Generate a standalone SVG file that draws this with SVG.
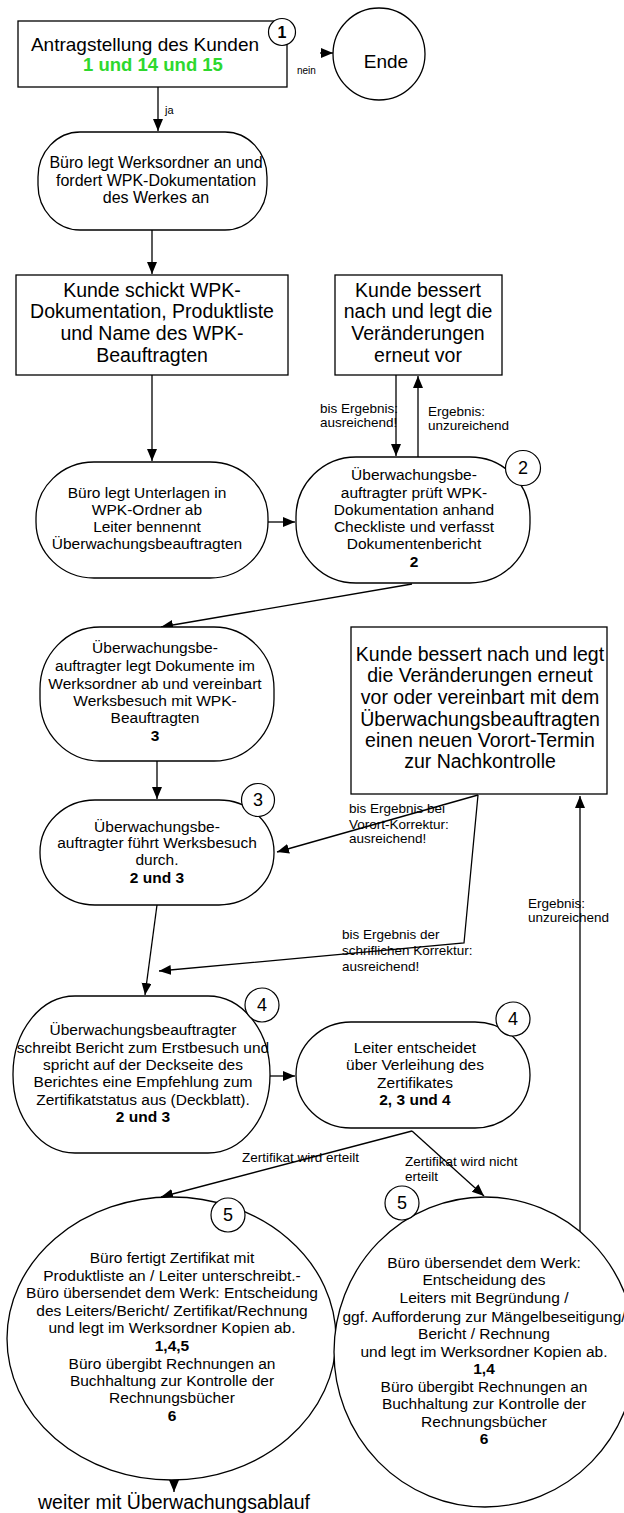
<svg xmlns="http://www.w3.org/2000/svg" width="624" height="1513" viewBox="0 0 624 1513">
<defs>
<style>
text{font-family:"Liberation Sans",Arial,sans-serif;fill:#000}
.shape{fill:#fff;stroke:#000;stroke-width:1.3}
.num{fill:#fff;stroke:#000;stroke-width:1.2}
.t{font-size:15.5px;text-anchor:middle}
.tb{font-size:19.5px;text-anchor:middle}
.lbl{font-size:13.5px}
.n{font-size:18px;text-anchor:middle}
.b{font-weight:bold}
.edge{fill:none;stroke:#000;stroke-width:1.3}
</style>
<marker id="ah" markerUnits="userSpaceOnUse" markerWidth="13" markerHeight="11" refX="12" refY="5" orient="auto">
<path d="M0,0 L12,5 L0,10 z" fill="#000"/>
</marker>
</defs>
<rect width="624" height="1513" fill="#fff"/>

<g id="connectors">
<path class="edge" d="M158,87 L158,131" marker-end="url(#ah)"/>
<path class="edge" d="M320,53 L333,53" marker-end="url(#ah)"/>
<path class="edge" d="M152,230 L152,274" marker-end="url(#ah)"/>
<path class="edge" d="M152,375 L152,461" marker-end="url(#ah)"/>
<path class="edge" d="M396,375 L396,456" marker-end="url(#ah)"/>
<path class="edge" d="M418,457 L418,376" marker-end="url(#ah)"/>
<path class="edge" d="M268,522 L295,522" marker-end="url(#ah)"/>
<path class="edge" d="M412,584 L161,627" marker-end="url(#ah)"/>
<path class="edge" d="M157,761 L157,799" marker-end="url(#ah)"/>
<path class="edge" d="M478,795 L277,852" marker-end="url(#ah)"/>
<path class="edge" d="M478,795 L464,943 L159,971" marker-end="url(#ah)"/>
<path class="edge" d="M157,905 L145,995" marker-end="url(#ah)"/>
<path class="edge" d="M270,1076 L295,1076" marker-end="url(#ah)"/>
<path class="edge" d="M412,1131 L161,1197" marker-end="url(#ah)"/>
<path class="edge" d="M412,1131 L484,1196" marker-end="url(#ah)"/>
<path class="edge" d="M580,1238 L580,796" marker-end="url(#ah)"/>
<path class="edge" d="M174,1479 L174,1492" marker-end="url(#ah)"/>
<text class="lbl" x="165" y="114" style="font-size:11px">ja</text>
<text class="lbl" x="297" y="74" style="font-size:10px">nein</text>
<text class="lbl" x="320" y="413">bis Ergebnis:</text>
<text class="lbl" x="320" y="427">ausreichend!</text>
<text class="lbl" x="428" y="416">Ergebnis:</text>
<text class="lbl" x="428" y="430">unzureichend</text>
<text class="lbl" x="349" y="813">bis Ergebnis bei</text>
<text class="lbl" x="349" y="829">Vorort-Korrektur:</text>
<text class="lbl" x="349" y="843">ausreichend!</text>
<text class="lbl" x="342" y="939">bis Ergebnis der</text>
<text class="lbl" x="342" y="955">schriflichen Korrektur:</text>
<text class="lbl" x="342" y="971">ausreichend!</text>
<text class="lbl" x="528" y="908">Ergebnis:</text>
<text class="lbl" x="528" y="922">unzureichend</text>
<text class="lbl" x="242" y="1162">Zertifikat wird erteilt</text>
<text class="lbl" x="405" y="1166">Zertifikat wird nicht</text>
<text class="lbl" x="405" y="1181">erteilt</text>
</g>

<g id="n1">
<rect class="shape" x="18" y="21" width="269" height="66"/>
<text class="tb" x="145" y="51" style="font-size:19px">Antragstellung des Kunden</text>
<text class="tb b" x="153" y="71" style="font-size:18.5px;fill:#2ed82e">1 und 14 und 15</text>
<circle class="num" cx="282" cy="32" r="13.5"/>
<text class="n b" x="282" y="38" style="font-size:16px">1</text>
</g>

<g id="ende">
<circle class="shape" cx="379" cy="54" r="46"/>
<text class="tb" x="386" y="68" style="font-size:19px">Ende</text>
</g>

<g id="n2">
<rect class="shape" x="38" y="132" width="229" height="98" rx="42" ry="45"/>
<text class="t" x="156" y="168" style="font-size:16px">Büro legt Werksordner an und</text>
<text class="t" x="156" y="186" style="font-size:16px">fordert WPK-Dokumentation</text>
<text class="t" x="156" y="203" style="font-size:16px">des Werkes an</text>
</g>

<g id="n3">
<rect class="shape" x="16" y="275" width="272" height="100"/>
<text class="tb" x="152" y="297">Kunde schickt WPK-</text>
<text class="tb" x="152" y="318">Dokumentation, Produktliste</text>
<text class="tb" x="152" y="340">und Name des WPK-</text>
<text class="tb" x="152" y="362">Beauftragten</text>
</g>

<g id="n3b">
<rect class="shape" x="335" y="275" width="167" height="100"/>
<text class="tb" x="418" y="297">Kunde bessert</text>
<text class="tb" x="418" y="318">nach und legt die</text>
<text class="tb" x="418" y="340">Veränderungen</text>
<text class="tb" x="418" y="362">erneut vor</text>
</g>

<g id="n4">
<rect class="shape" x="36" y="462" width="232" height="116" rx="58" ry="56"/>
<text class="t" x="147" y="498">Büro legt Unterlagen in</text>
<text class="t" x="147" y="515">WPK-Ordner ab</text>
<text class="t" x="147" y="532">Leiter bennennt</text>
<text class="t" x="147" y="549">Überwachungsbeauftragten</text>
</g>

<g id="n5">
<rect class="shape" x="296" y="457" width="234" height="126" rx="60" ry="60"/>
<text class="t" x="414" y="480">Überwachungsbe-</text>
<text class="t" x="414" y="498">auftragter prüft WPK-</text>
<text class="t" x="414" y="515">Dokumentation anhand</text>
<text class="t" x="414" y="532">Checkliste und verfasst</text>
<text class="t" x="414" y="549">Dokumentenbericht</text>
<text class="t b" x="414" y="567">2</text>
<circle class="num" cx="523" cy="468" r="17.5"/>
<text class="n" x="523" y="474">2</text>
</g>

<g id="n6">
<rect class="shape" x="40" y="627" width="234" height="134" rx="60" ry="62"/>
<text class="t" x="155" y="653">Überwachungsbe-</text>
<text class="t" x="155" y="671">auftragter legt Dokumente im</text>
<text class="t" x="155" y="689">Werksordner ab und vereinbart</text>
<text class="t" x="155" y="706">Werksbesuch mit WPK-</text>
<text class="t" x="155" y="723">Beauftragten</text>
<text class="t b" x="155" y="741">3</text>
</g>

<g id="n7">
<rect class="shape" x="351" y="627" width="256" height="167"/>
<text class="tb" x="480" y="661">Kunde bessert nach und legt</text>
<text class="tb" x="480" y="682">die Veränderungen erneut</text>
<text class="tb" x="480" y="704">vor oder vereinbart mit dem</text>
<text class="tb" x="480" y="726">Überwachungsbeauftragten</text>
<text class="tb" x="480" y="747">einen neuen Vorort-Termin</text>
<text class="tb" x="480" y="768">zur Nachkontrolle</text>
</g>

<g id="n8">
<rect class="shape" x="40" y="800" width="234" height="105" rx="55" ry="52"/>
<text class="t" x="157" y="832">Überwachungsbe-</text>
<text class="t" x="157" y="848">auftragter führt Werksbesuch</text>
<text class="t" x="157" y="865">durch.</text>
<text class="t b" x="157" y="883">2 und 3</text>
<circle class="num" cx="258" cy="800" r="16.5"/>
<text class="n" x="258" y="806">3</text>
</g>

<g id="n9">
<rect class="shape" x="13" y="996" width="257" height="157" rx="62" ry="78"/>
<text class="t" x="143" y="1035">Überwachungsbeauftragter</text>
<text class="t" x="143" y="1053">schreibt Bericht zum Erstbesuch und</text>
<text class="t" x="143" y="1070">spricht auf der Deckseite des</text>
<text class="t" x="143" y="1087">Berichtes eine Empfehlung zum</text>
<text class="t" x="143" y="1105">Zertifikatstatus  aus (Deckblatt).</text>
<text class="t b" x="143" y="1122">2 und 3</text>
<circle class="num" cx="262" cy="1005" r="17"/>
<text class="n" x="262" y="1011">4</text>
</g>

<g id="n10">
<rect class="shape" x="296" y="1022" width="234" height="106" rx="55" ry="53"/>
<text class="t" x="415" y="1053">Leiter entscheidet</text>
<text class="t" x="415" y="1070">über Verleihung des</text>
<text class="t" x="415" y="1088">Zertifikates</text>
<text class="t b" x="415" y="1105">2, 3 und 4</text>
<circle class="num" cx="513" cy="1019" r="17"/>
<text class="n" x="513" y="1025">4</text>
</g>

<g id="n11">
<ellipse class="shape" cx="171.5" cy="1338.5" rx="164.5" ry="141.5"/>
<text class="t" x="172" y="1263">Büro fertigt Zertifikat mit</text>
<text class="t" x="172" y="1281">Produktliste an / Leiter unterschreibt.-</text>
<text class="t" x="172" y="1298">Büro übersendet dem Werk: Entscheidung</text>
<text class="t" x="172" y="1316">des Leiters/Bericht/ Zertifikat/Rechnung</text>
<text class="t" x="172" y="1333">und legt im Werksordner Kopien ab.</text>
<text class="t b" x="172" y="1351">1,4,5</text>
<text class="t" x="172" y="1369">Büro übergibt Rechnungen an</text>
<text class="t" x="172" y="1386">Buchhaltung zur Kontrolle der</text>
<text class="t" x="172" y="1403">Rechnungsbücher</text>
<text class="t b" x="172" y="1421">6</text>
<circle class="num" cx="228" cy="1215" r="17"/>
<text class="n" x="228" y="1221">5</text>
</g>

<g id="n12">
<ellipse class="shape" cx="485" cy="1352" rx="151" ry="155"/>
<text class="t" x="484" y="1268">Büro übersendet dem Werk:</text>
<text class="t" x="484" y="1285">Entscheidung des</text>
<text class="t" x="484" y="1303">Leiters mit Begründung /</text>
<text class="t" x="484" y="1322">ggf. Aufforderung zur Mängelbeseitigung/</text>
<text class="t" x="484" y="1339">Bericht / Rechnung</text>
<text class="t" x="484" y="1357">und legt im Werksordner Kopien ab.</text>
<text class="t b" x="484" y="1374">1,4</text>
<text class="t" x="484" y="1392">Büro übergibt Rechnungen an</text>
<text class="t" x="484" y="1409">Buchhaltung zur Kontrolle der</text>
<text class="t" x="484" y="1427">Rechnungsbücher</text>
<text class="t b" x="484" y="1444">6</text>
<circle class="num" cx="402" cy="1203" r="17"/>
<text class="n" x="402" y="1209">5</text>
</g>

<g id="weiter">
<text class="tb" x="174" y="1509">weiter mit Überwachungsablauf</text>
</g>
</svg>
